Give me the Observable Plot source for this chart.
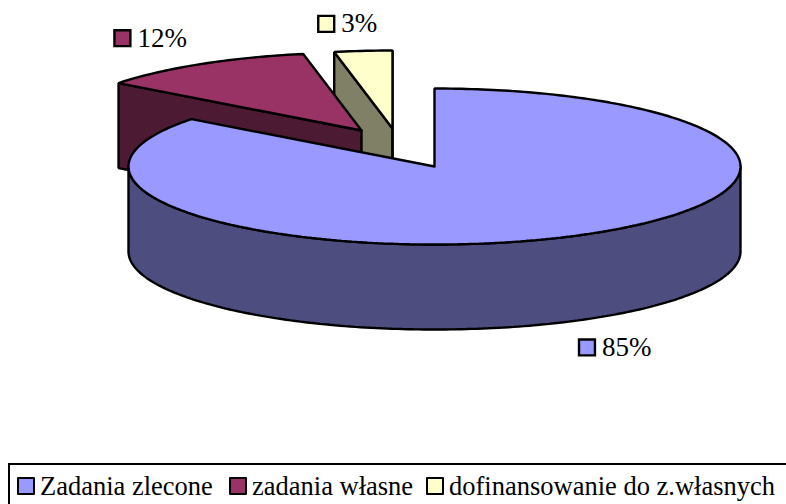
<!DOCTYPE html>
<html>
<head>
<meta charset="utf-8">
<script src="https://cdn.jsdelivr.net/npm/d3@7"></script>
<script src="https://cdn.jsdelivr.net/npm/@observablehq/plot@0.6"></script>
<style>
html,body{margin:0;padding:0;background:#fff;width:786px;height:504px;overflow:hidden}
#chart{position:absolute;left:0;top:0}
svg{display:block}
#legend{position:absolute;left:8px;top:463px;width:800px;height:60px;border:2px solid #000;box-sizing:border-box;background:#fff}
#legend span{position:absolute;white-space:nowrap;font:26.5px/1 "Liberation Serif",serif;color:#000}
#legend i{position:absolute;width:14px;height:14px;border:2.5px solid #000;border-radius:1px;display:block}
</style>
</head>
<body>
<div id="chart"></div>
<div id="legend"></div>
<script>
const categories = ["Zadania zlecone", "zadania własne", "dofinansowanie do z.własnych"];
const shares = [85.4, 11.55, 3.05];
const topColors = ["#9999ff", "#993366", "#ffffcc"];
const sideColors = ["#4d4d80", "#4d1a33", "#808066"];

// Projection of the tilted disc
const W = 786, H = 462, RX = 306, RY = 78, DEPTH = 85;
const apexes = [[434, 166], [361, 130], [392, 128]];
const labelOffsets = [[17, 26], [-78, -26], [-37, -27]];

const rad = d => d * Math.PI / 180;
const rim = (c, a, dz = 0) => ({x: c[0] + RX * Math.sin(rad(a)), y: c[1] - RY * Math.cos(rad(a)) + dz});
const arc = (c, a0, a1, dz = 0) => {
  const n = Math.max(2, Math.ceil(Math.abs(a1 - a0)));
  return d3.range(n + 1).map(i => rim(c, a0 + (a1 - a0) * i / n, dz));
};
const at = (c, dz = 0) => ({x: c[0], y: c[1] + dz});
const closed = pts => [...pts, pts[0]];

// Slice start/end angles, clockwise from the back of the disc
let acc = 0;
const slices = shares.map((v, i) => {
  const a0 = acc * 3.6; acc += v; const a1 = acc * 3.6;
  return {i, a0, a1, c: apexes[i], mid: (a0 + a1) / 2};
});

const faces = [];
const [blue, maroon, yellow] = slices;
// yellow
faces.push({fill: sideColors[2], pts: [at(yellow.c), at(yellow.c, DEPTH), rim(yellow.c, yellow.a0, DEPTH), rim(yellow.c, yellow.a0)]});
faces.push({fill: sideColors[2], pts: [at(yellow.c), at(yellow.c, DEPTH), rim(yellow.c, yellow.a1, DEPTH), rim(yellow.c, yellow.a1)]});
faces.push({fill: topColors[2], pts: [at(yellow.c), ...arc(yellow.c, yellow.a0, yellow.a1)]});
// maroon
faces.push({fill: sideColors[1], pts: [at(maroon.c), at(maroon.c, DEPTH), rim(maroon.c, maroon.a0, DEPTH), rim(maroon.c, maroon.a0)]});
faces.push({fill: topColors[1], pts: [at(maroon.c), ...arc(maroon.c, maroon.a0, maroon.a1)]});
// blue
faces.push({fill: sideColors[0], pts: [...arc(blue.c, 90, 270), ...arc(blue.c, 270, 90, DEPTH)]});
faces.push({fill: topColors[0], pts: [at(blue.c), ...arc(blue.c, blue.a0, blue.a1)]});

const labels = slices.map(s => {
  const p = rim(s.c, s.mid, s.i === 0 ? DEPTH : 0);
  return {x: p.x + labelOffsets[s.i][0], y: p.y + labelOffsets[s.i][1], text: Math.round(shares[s.i]) + "%", fill: topColors[s.i]};
});

const chart = Plot.plot({
  width: W, height: H,
  margin: 0,
  x: {domain: [0, W], range: [0, W], axis: null},
  y: {domain: [0, H], range: [0, H], axis: null},
  style: {background: "#fff"},
  marks: [
    ...faces.map(f => Plot.line(closed(f.pts), {x: "x", y: "y", fill: f.fill, stroke: "#000", strokeWidth: 2.4, strokeLinejoin: "miter", curve: "linear"})),
    ...labels.map(l => Plot.dot([l], {x: "x", y: "y", symbol: "square", r: 9, fill: l.fill, stroke: "#000", strokeWidth: 2.4})),
    Plot.text(labels, {x: "x", y: "y", text: "text", dx: 15, textAnchor: "start", fontFamily: "Liberation Serif", fontSize: 27, fill: "#000"})
  ]
});
document.getElementById("chart").append(chart);

const legend = document.getElementById("legend");
const swatchLeft = [7, 219, 416];
categories.forEach((c, i) => {
  const sw = document.createElement("i");
  sw.style.left = swatchLeft[i] + "px";
  sw.style.top = "12px";
  sw.style.background = topColors[i];
  legend.append(sw);
  const t = document.createElement("span");
  t.textContent = c;
  t.style.left = (swatchLeft[i] + 23) + "px";
  t.style.top = "8px";
  legend.append(t);
});
</script>
</body>
</html>
